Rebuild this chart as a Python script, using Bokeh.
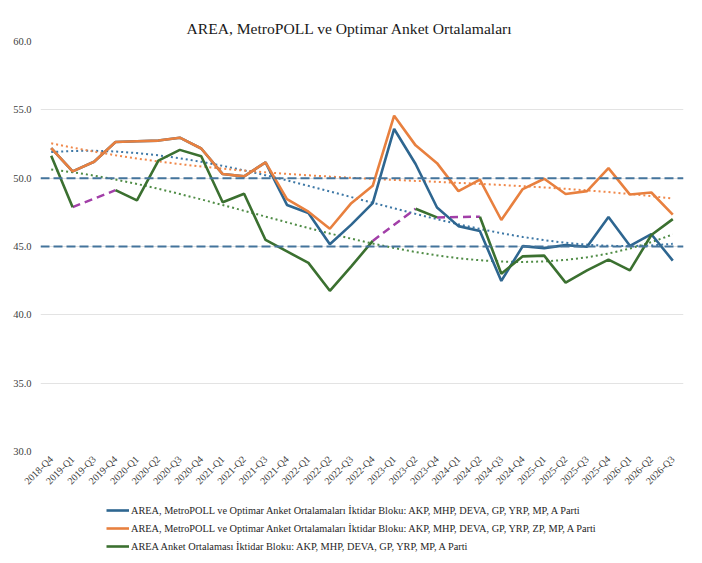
import numpy as np
from math import pi
from bokeh.plotting import figure
from bokeh.layouts import column
from bokeh.models import (FactorRange, Range1d, FixedTicker, PrintfTickFormatter,
                          Span, Legend, LegendItem)
from bokeh.embed import file_html
from bokeh.resources import INLINE

quarters = ["2018-Q4", "2019-Q1", "2019-Q3", "2019-Q4", "2020-Q1", "2020-Q2", "2020-Q3",
            "2020-Q4", "2021-Q1", "2021-Q2", "2021-Q3", "2021-Q4", "2022-Q1", "2022-Q2",
            "2022-Q3", "2022-Q4", "2023-Q1", "2023-Q2", "2023-Q4", "2024-Q1", "2024-Q2",
            "2024-Q3", "2024-Q4", "2025-Q1", "2025-Q2", "2025-Q3", "2025-Q4", "2026-Q1",
            "2026-Q2", "2026-Q3"]

blok_mp = [52.2, 50.5, 51.2, 52.65, 52.7, 52.75, 52.96, 52.17, 50.3, 50.13, 51.16,
           48.04, 47.45, 45.17, 46.6, 48.17, 53.6, 51.04, 47.85, 46.49, 46.13,
           42.48, 45.03, 44.88, 45.1, 44.98, 47.16, 45.05, 45.9, 43.97]

blok_zp = [52.2, 50.5, 51.2, 52.65, 52.7, 52.75, 52.96, 52.17, 50.3, 50.13, 51.16,
           48.47, 47.55, 46.3, 48.17, 49.44, 54.57, 52.4, 51.1, 49.05, 49.9,
           46.94, 49.2, 49.96, 48.84, 49.05, 50.73, 48.8, 48.95, 47.33]

area = [51.64, 47.88, None, 49.12, 48.38, 51.28, 52.07, 51.6, 48.24, 48.86, 45.48,
        44.64, 43.8, 41.76, 43.54, 45.41, None, 47.76, 47.13, None, 47.18,
        43.01, 44.28, 44.33, 42.36, 43.25, 44.04, 43.25, 45.84, 47.0]

ref_levels = [50.0, 45.0]
y_ticks = [30, 35, 40, 45, 50, 55, 60]

labels = ["AREA, MetroPOLL ve Optimar Anket Ortalamaları İktidar Bloku: AKP, MHP, DEVA, GP, YRP, MP, A Parti",
          "AREA, MetroPOLL ve Optimar Anket Ortalamaları İktidar Bloku: AKP, MHP, DEVA, GP, YRP, ZP, MP, A Parti",
          "AREA Anket Ortalaması İktidar Bloku: AKP, MHP, DEVA, GP, YRP, MP, A Parti"]

BLUE = "#2E6690"
ORANGE = "#E8803F"
GREEN = "#3B7030"
PURPLE = "#A23FA8"
SERIF = "Liberation Serif"
W = 694

p = figure(width=W, height=493, x_range=FactorRange(*quarters), y_range=Range1d(30, 60),
           output_backend="svg", toolbar_location=None,
           min_border_left=40, min_border_right=11, min_border_top=41, min_border_bottom=38)

p.title.text = "AREA, MetroPOLL ve Optimar Anket Ortalamaları"
p.title.align = "left"
p.title.offset = 146
p.title.text_font = SERIF
p.title.text_font_size = "15.6px"
p.title.text_font_style = "normal"
p.title.text_color = "#1a1a1a"
p.title.standoff = 10

p.outline_line_color = None
p.xgrid.grid_line_color = None
p.ygrid.grid_line_color = "#E3E3E3"
p.ygrid.grid_line_width = 1.2

p.yaxis.ticker = FixedTicker(ticks=y_ticks)
p.yaxis.formatter = PrintfTickFormatter(format="%.1f")
for ax in (p.xaxis, p.yaxis):
    ax.axis_line_color = None
    ax.major_tick_line_color = None
    ax.minor_tick_line_color = None
    ax.major_tick_out = 0
    ax.major_tick_in = 0
    ax.major_label_text_font = SERIF
    ax.major_label_text_color = "#404040"
p.yaxis.major_label_text_font_size = "10.5px"
p.xaxis.major_label_text_font_size = "10px"
p.yaxis.major_label_standoff = 9
p.xaxis.major_label_orientation = pi / 4
p.xaxis.major_label_standoff = 6

for lv in ref_levels:
    p.add_layout(Span(location=lv, dimension="width", line_color="#44749C",
                      line_width=2, line_dash="9 4"))

# Trend lines (3rd-order polynomial, as in the spreadsheet)
idx = np.arange(1, len(quarters) + 1, dtype=float)

def trend(vals):
    v = np.array([np.nan if x is None else x for x in vals], dtype=float)
    m = ~np.isnan(v)
    c = np.polyfit(idx[m], v[m], 3)
    return list(np.polyval(c, idx))

p.line(quarters, trend(blok_mp), line_color="#3E78A6", line_width=2, line_dash="2 3")
p.line(quarters, trend(blok_zp), line_color="#F0884A", line_width=2, line_dash="2 3")
p.line(quarters, trend(area), line_color="#4F8C45", line_width=2, line_dash="2 3")

area_arr = [np.nan if x is None else x for x in area]
bx0, by0, bx1, by1 = [], [], [], []
last = None
for i, v in enumerate(area_arr):
    if not np.isnan(v):
        if last is not None and i - last > 1:
            bx0.append(quarters[last]); by0.append(area_arr[last])
            bx1.append(quarters[i]); by1.append(v)
        last = i
p.segment(x0=bx0, y0=by0, x1=bx1, y1=by1, line_color=PURPLE, line_width=2.5, line_dash="8 5")

p.line(quarters, blok_mp, line_color=BLUE, line_width=2.6)
p.line(quarters, blok_zp, line_color=ORANGE, line_width=2.6)
p.line(quarters, area_arr, line_color=GREEN, line_width=2.6)

# Legend panel below the chart (legend-only renderers hold no visible data)
lg = figure(width=W, height=62, output_backend="svg", toolbar_location=None,
            x_range=Range1d(0, 1), y_range=Range1d(0, 1),
            x_axis_location=None, y_axis_location=None,
            min_border_left=0, min_border_right=0, min_border_top=0, min_border_bottom=0)
lg.outline_line_color = None
lg.xgrid.visible = False
lg.ygrid.visible = False
lr = [lg.line(x=[np.nan], y=[np.nan], line_color=c, line_width=2.6) for c in (BLUE, ORANGE, GREEN)]
legend = Legend(items=[LegendItem(label=labels[i], renderers=[lr[i]]) for i in range(3)],
                location=(66, 2), orientation="vertical",
                label_text_font=SERIF, label_text_font_size="10.3px", label_text_color="#262626",
                glyph_width=23, glyph_height=14, label_height=14, label_standoff=2,
                spacing=4, padding=0, margin=0,
                border_line_alpha=0, background_fill_alpha=0)
lg.add_layout(legend, "center")

layout = column(p, lg, spacing=0)
open("out.html", "w").write(file_html(layout, INLINE))
